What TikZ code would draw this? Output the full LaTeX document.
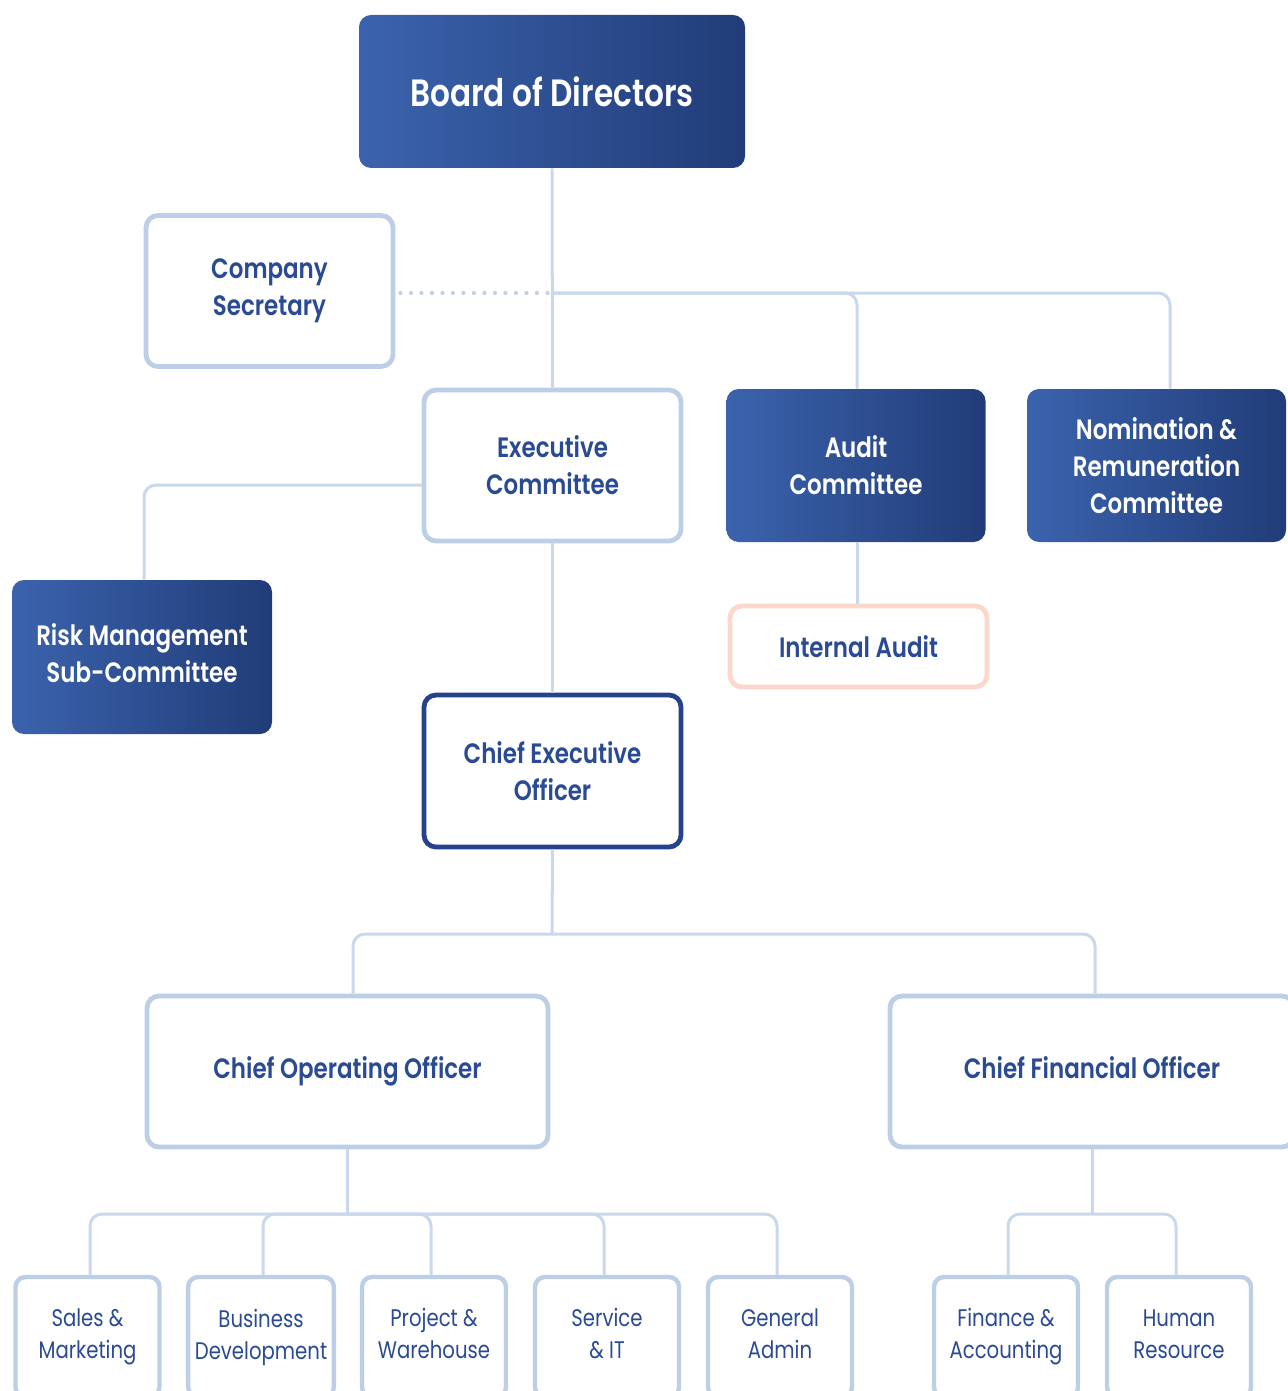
\documentclass[tikz,border=0pt]{standalone}
\usepackage{fontspec}
\setmainfont{Poppins}[FakeStretch=0.82]
\newfontfamily\medfont{Poppins SemiBold}[FakeStretch=0.82]
\definecolor{gradL}{HTML}{3B63AD}
\definecolor{gradR}{HTML}{213C78}
\definecolor{boxline}{HTML}{BCCFE6}
\definecolor{linec}{HTML}{C9D8EC}
\definecolor{dotc}{HTML}{BFD0E7}
\definecolor{txtblue}{HTML}{2A4B93}
\definecolor{ceoline}{HTML}{27418B}
\definecolor{peach}{HTML}{FBD8CB}
\newcommand{\dsc}{\vphantom{g}}
\begin{document}
\begin{tikzpicture}[x=0.5pt,y=-0.5pt,
  darkbox/.style={rectangle, rounded corners=6pt, left color=gradL, right color=gradR, draw=none,
     text=white, align=center, font=\medfont\fontsize{14pt}{18.5pt}\selectfont},
  lightbox/.style={rectangle, rounded corners=6pt, draw=boxline, line width=2.4pt, fill=white,
     text=txtblue, align=center, font=\medfont\fontsize{14pt}{18.5pt}\selectfont},
  ceobox/.style={lightbox, draw=ceoline},
  iabox/.style={lightbox, draw=peach},
  smallbox/.style={rectangle, rounded corners=5pt, draw=boxline, line width=2.2pt, fill=white,
     text=txtblue, align=center, font=\fontsize{12pt}{16pt}\selectfont,
     minimum width=72pt, minimum height=60pt},
  conn/.style={draw=linec, line width=1.5pt, rounded corners=6pt},
  dotconn/.style={draw=dotc, line width=2.1pt, line cap=round, dash pattern=on 0pt off 5.25pt}
]
\useasboundingbox (0,0) rectangle (1287,1391);

% nodes
\node[darkbox, minimum width=193pt, minimum height=76.5pt, font=\medfont\fontsize{19pt}{23pt}\selectfont]
  (board) at (552,91.5) {Board of Directors};
\node[lightbox, minimum width=123.5pt, minimum height=75.5pt] (sec) at (269.5,291) {Company\\Secretary};
\node[lightbox, minimum width=128.5pt, minimum height=75.5pt] (exec) at (552.5,465.5) {Executive\\Committee};
\node[darkbox, minimum width=129.5pt, minimum height=76.5pt] (audit) at (856,465.5) {Audit\\Committee};
\node[darkbox, minimum width=129.5pt, minimum height=76.5pt] (nom) at (1156.5,465.5) {Nomination \&\\Remuneration\\Committee};
\node[darkbox, minimum width=130pt, minimum height=77pt] (risk) at (142,657) {Risk Management\\Sub-Committee\dsc};
\node[iabox, minimum width=128.5pt, minimum height=40.5pt] (ia) at (858.5,646.5) {Internal Audit};
\node[ceobox, minimum width=128.5pt, minimum height=76pt] (ceo) at (552.5,771) {Chief Executive\\Officer};
\node[lightbox, minimum width=200.5pt, minimum height=75.5pt] (coo) at (347.5,1071.5) {Chief Operating Officer};
\node[lightbox, minimum width=202pt, minimum height=75.5pt] (cfo) at (1092,1071.5) {Chief Financial Officer\dsc};

\node[smallbox] (sales) at (87.5,1337) {Sales \&\\Marketing};
\node[smallbox] (bus) at (261,1337) {Business\\Development};
\node[smallbox] (proj) at (434,1337) {Project \&\\Warehouse\dsc};
\node[smallbox] (serv) at (607,1337) {Service\\\& IT\dsc};
\node[smallbox] (gen) at (780,1337) {General\\Admin\dsc};
\node[smallbox] (fin) at (1006,1337) {Finance \&\\Accounting};
\node[smallbox] (hr) at (1179,1337) {Human\\Resource\dsc};

% junctions
\coordinate (j1) at (552,293);
\coordinate (j2) at (552,934);
\coordinate (j3) at (347,1214);
\coordinate (j4) at (1092,1214);

% connectors
\draw[conn] (board.south) -- (exec.north);
\draw[conn] (j1) -| ([xshift=0.5pt]audit.north);
\draw[conn] (j1) -| ([xshift=6.75pt]nom.north);
\draw[dotconn] ([xshift=2.5pt]sec.east |- j1) -- ([xshift=-1.5pt]j1);
\draw[conn] ([yshift=-9.75pt]exec.west) -| ([xshift=1pt]risk.north);
\draw[conn] (exec.south) -- (ceo.north);
\draw[conn] ([xshift=0.5pt]audit.south) -- ([xshift=0.5pt]audit.south |- ia.north);
\draw[conn] (ceo.south) -- (j2);
\draw[conn] (j2) -| ([xshift=2.75pt]coo.north);
\draw[conn] (j2) -| ([xshift=1.5pt]cfo.north);
\draw[conn] (coo.south -| j3) -- (j3);
\draw[conn] (j3) -| ([xshift=1.25pt]sales.north);
\draw[conn] (j3) -| ([xshift=1pt]bus.north);
\draw[conn] (j3) -| ([xshift=-1.5pt]proj.north);
\draw[conn] (j3) -| ([xshift=-1.5pt]serv.north);
\draw[conn] (j3) -| ([xshift=-1.5pt]gen.north);
\draw[conn] (cfo.south) -- (j4);
\draw[conn] (j4) -| ([xshift=1pt]fin.north);
\draw[conn] (j4) -| ([xshift=-1.5pt]hr.north);
\end{tikzpicture}
\end{document}
